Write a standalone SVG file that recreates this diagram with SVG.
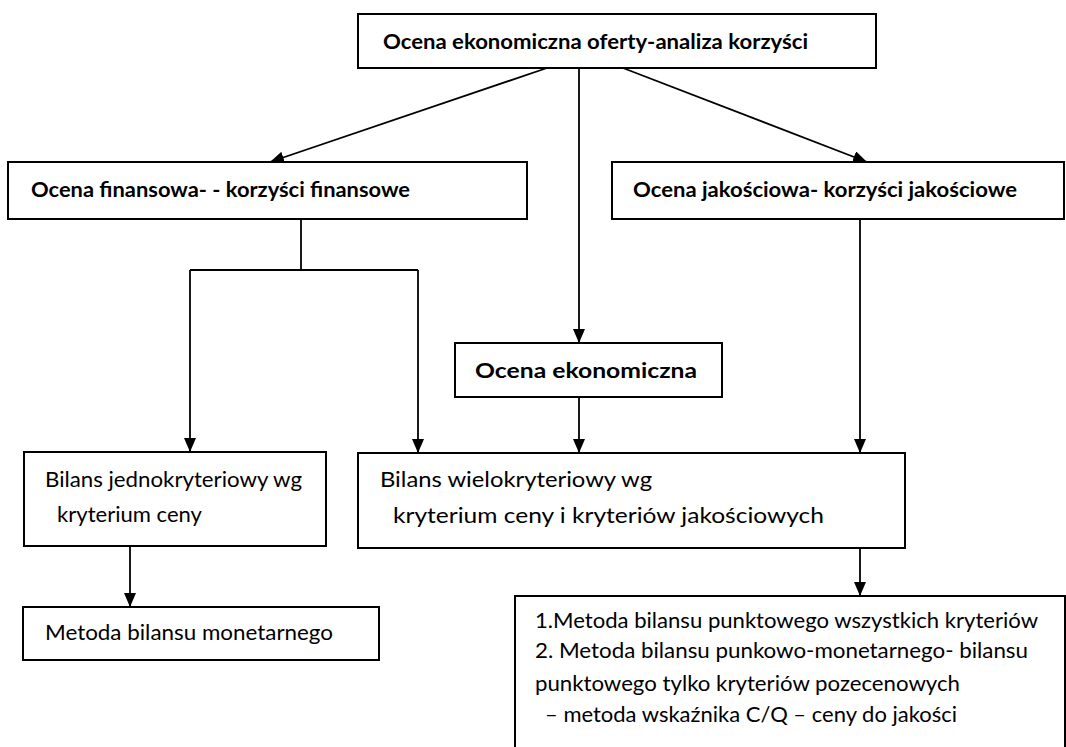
<svg xmlns="http://www.w3.org/2000/svg" width="1066" height="747" viewBox="0 0 1066 747">
<defs>
<marker id="arr" markerUnits="userSpaceOnUse" markerWidth="14" markerHeight="12" refX="14" refY="6" orient="auto">
<path d="M0,0 L14,6 L0,12 z" fill="#000"/>
</marker>
<style>
.box{fill:#fff;stroke:#000;stroke-width:2}
.b{font-family:Lato,"Liberation Sans",sans-serif;font-weight:bold;font-size:20px;fill:#000}
.r{font-family:Lato,"Liberation Sans",sans-serif;font-size:21px;fill:#000}
.ln{fill:none;stroke:#000;stroke-width:1.8}
.ar{fill:none;stroke:#000;stroke-width:1.8;marker-end:url(#arr)}
</style>
</defs>
<rect width="1066" height="747" fill="#fff"/>
<g id="connectors">
<line class="ar" x1="547" y1="68" x2="270" y2="162"/>
<line class="ar" x1="579" y1="68" x2="579" y2="343"/>
<line class="ar" x1="623" y1="68" x2="867" y2="162"/>
<line class="ln" x1="301" y1="219" x2="301" y2="270"/>
<line class="ln" x1="190" y1="270" x2="418" y2="270"/>
<line class="ar" x1="190" y1="270" x2="190" y2="452"/>
<line class="ar" x1="418" y1="270" x2="418" y2="453"/>
<line class="ar" x1="860" y1="219" x2="860" y2="453"/>
<line class="ar" x1="579" y1="397" x2="579" y2="453"/>
<line class="ar" x1="130" y1="546" x2="130" y2="607"/>
<line class="ar" x1="860" y1="548" x2="860" y2="596"/>
</g>
<g id="n-top">
<rect class="box" x="358" y="14" width="518" height="54"/>
<text class="b" x="383" y="49" textLength="425" lengthAdjust="spacingAndGlyphs">Ocena ekonomiczna oferty-analiza korzyści</text>
</g>
<g id="n-fin">
<rect class="box" x="8" y="162" width="519" height="57"/>
<text class="b" x="31" y="197" textLength="379" lengthAdjust="spacingAndGlyphs">Ocena finansowa- - korzyści finansowe</text>
</g>
<g id="n-jak">
<rect class="box" x="612" y="162" width="452" height="57"/>
<text class="b" x="633" y="197" textLength="384" lengthAdjust="spacingAndGlyphs">Ocena jakościowa- korzyści jakościowe</text>
</g>
<g id="n-ekon">
<rect class="box" x="455" y="343" width="267" height="54"/>
<text class="b" x="475" y="378" font-size="24" textLength="222" lengthAdjust="spacingAndGlyphs">Ocena ekonomiczna</text>
</g>
<g id="n-jedno">
<rect class="box" x="24" y="452" width="302" height="94"/>
<text class="r" x="45" y="487" textLength="257" lengthAdjust="spacingAndGlyphs">Bilans jednokryteriowy wg</text>
<text class="r" x="57" y="522" textLength="145" lengthAdjust="spacingAndGlyphs">kryterium ceny</text>
</g>
<g id="n-wielo">
<rect class="box" x="358" y="453" width="547" height="95"/>
<text class="r" x="380" y="487" font-size="22" textLength="272" lengthAdjust="spacingAndGlyphs">Bilans wielokryteriowy wg</text>
<text class="r" x="393" y="523" font-size="22" textLength="431" lengthAdjust="spacingAndGlyphs">kryterium ceny i kryteriów jakościowych</text>
</g>
<g id="n-monet">
<rect class="box" x="23" y="607" width="356" height="53"/>
<text class="r" x="45" y="640" textLength="288" lengthAdjust="spacingAndGlyphs">Metoda bilansu monetarnego</text>
</g>
<g id="n-metody">
<rect class="box" x="515" y="596" width="550" height="170"/>
<text class="r" x="535" y="628" textLength="503" lengthAdjust="spacingAndGlyphs">1.Metoda bilansu punktowego wszystkich kryteriów</text>
<text class="r" x="535" y="658" textLength="493" lengthAdjust="spacingAndGlyphs">2. Metoda bilansu punkowo-monetarnego- bilansu</text>
<text class="r" x="535" y="691" textLength="425" lengthAdjust="spacingAndGlyphs">punktowego tylko kryteriów pozecenowych</text>
<text class="r" x="545" y="722" textLength="412" lengthAdjust="spacingAndGlyphs">– metoda wskaźnika C/Q – ceny do jakości</text>
</g>
</svg>
